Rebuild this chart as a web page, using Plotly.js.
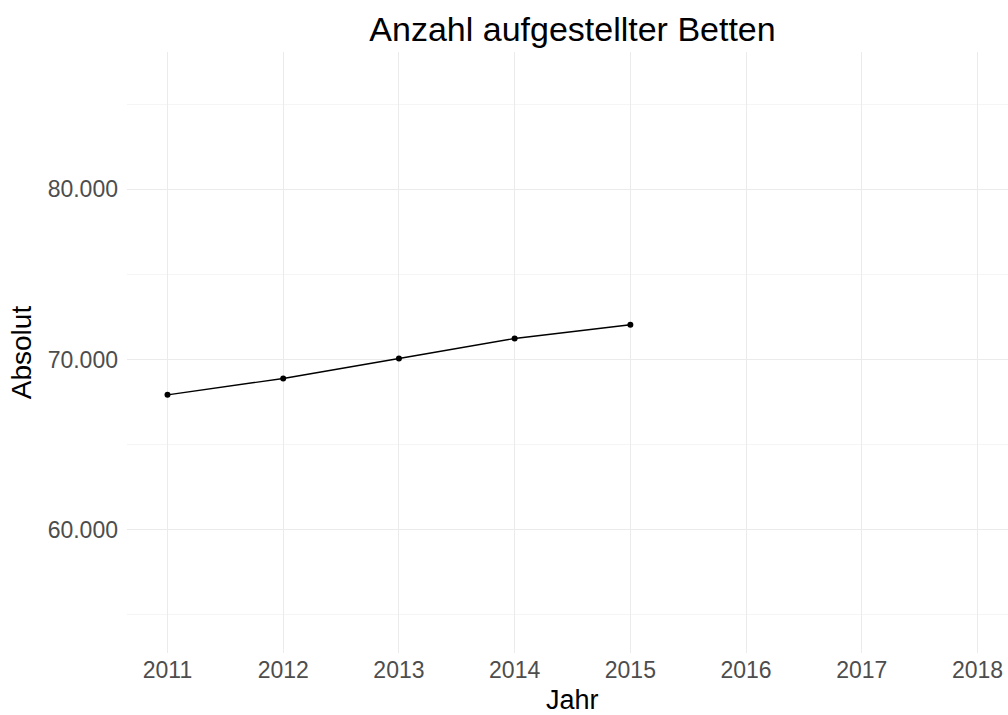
<!DOCTYPE html>
<html>
<head>
<meta charset="utf-8">
<script src="https://cdn.plot.ly/plotly-3.0.1.min.js"></script>
<style>
html, body { margin:0; padding:0; overflow:hidden; background:#fff; }
#chart { width:1018px; height:715px; }
</style>
</head>
<body>
<div id="chart"></div>
<script>
const years = [2011, 2012, 2013, 2014, 2015];
const betten = [67918, 68882, 70059, 71235, 72041];
const xTicks = [2011, 2012, 2013, 2014, 2015, 2016, 2017, 2018];
const yTicks = [60000, 70000, 80000];
const yTickLabels = ['60.000', '70.000', '80.000'];
const xTitle = 'Jahr';
const yTitle = 'Absolut';
const chartTitle = 'Anzahl aufgestellter Betten';

const trace = {
  x: years,
  y: betten,
  type: 'scatter',
  mode: 'lines+markers',
  line: {color: '#000000', width: 1.4},
  marker: {color: '#000000', size: 6},
  hoverinfo: 'x+y'
};

const plotBottomPx = 652.7, plotHeightPx = 715 - 52 - 62.3;

const layout = {
  width: 1018,
  height: 715,
  paper_bgcolor: '#ffffff',
  plot_bgcolor: '#ffffff',
  margin: {l: 127, r: 0, t: 52, b: 62.3},
  showlegend: false,
  font: {family: 'Liberation Sans, Arial, sans-serif', color: '#000000'},
  title: {
    text: chartTitle,
    font: {size: 34, color: '#000000', family: 'Liberation Sans, Arial, sans-serif'},
    x: 0.5, xref: 'paper', xanchor: 'center',
    y: 1 - 29/715, yref: 'container', yanchor: 'middle'
  },
  xaxis: {
    range: [2010.65, 2018.35],
    tickvals: xTicks,
    ticktext: xTicks.map(String),
    showgrid: true,
    gridcolor: '#ebebeb',
    gridwidth: 1,
    zeroline: false,
    showline: false,
    ticks: '',
    ticklabelstandoff: 1,
    tickfont: {size: 23, color: '#4d4d4d'},
    automargin: false
  },
  yaxis: {
    range: [52741, 88076],
    tickvals: yTicks,
    ticktext: yTickLabels,
    showgrid: true,
    gridcolor: '#ebebeb',
    gridwidth: 1,
    minor: {dtick: 5000, tick0: 55000, showgrid: true, gridcolor: '#f2f2f2', gridwidth: 0.8},
    zeroline: false,
    showline: false,
    ticks: '',
    ticklabelstandoff: 8,
    tickfont: {size: 23, color: '#4d4d4d'},
    title: {text: yTitle, font: {size: 28, color: '#000000'}, standoff: 7},
    automargin: false
  },
  annotations: [{
    text: xTitle,
    xref: 'paper', yref: 'paper',
    x: 0.5, xanchor: 'center',
    y: -(700 - plotBottomPx) / plotHeightPx, yanchor: 'middle',
    showarrow: false,
    font: {size: 27, color: '#000000', family: 'Liberation Sans, Arial, sans-serif'}
  }]
};

Plotly.newPlot('chart', [trace], layout, {displayModeBar: false, staticPlot: true});
</script>
</body>
</html>
